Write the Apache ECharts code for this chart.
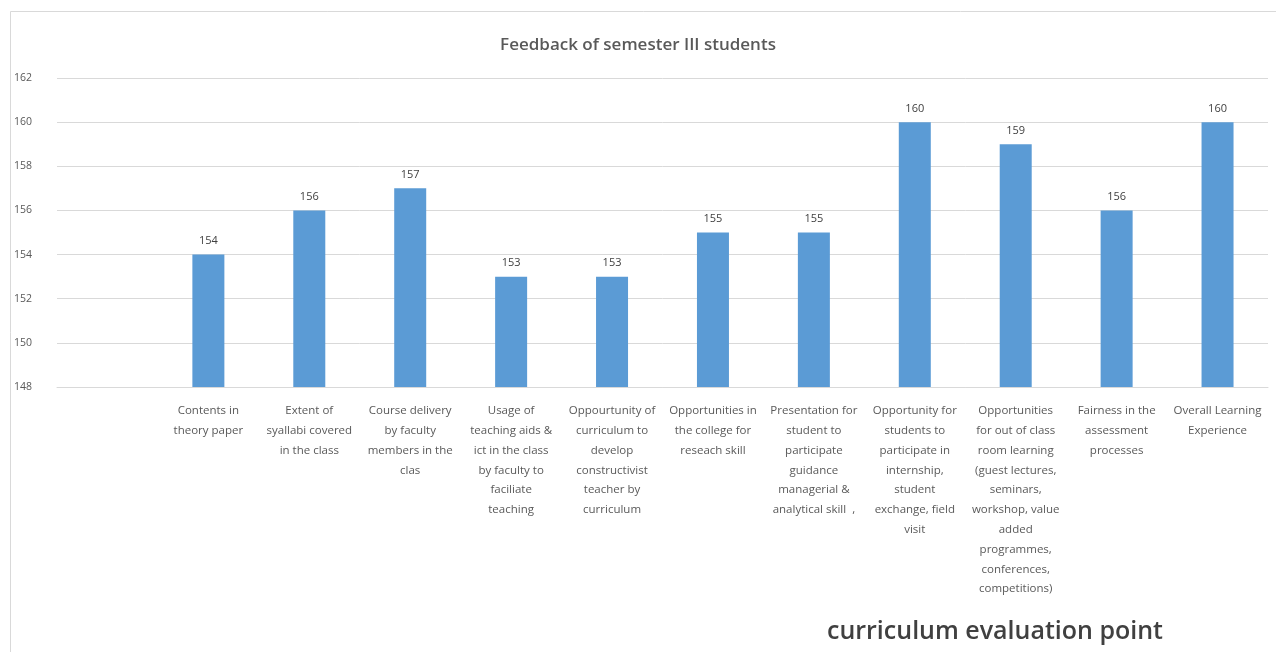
<!DOCTYPE html>
<html>
<head>
<meta charset="utf-8">
<script src="https://cdn.jsdelivr.net/npm/echarts@6/dist/echarts.min.js"></script>
<style>
html,body{margin:0;padding:0;background:#fff;}
#c{width:1276px;height:652px;}
</style>
</head>
<body>
<div id="c"></div>
<script>
const categories = [
  "",
  "Contents in\ntheory paper",
  "Extent of\nsyallabi covered\nin the class",
  "Course delivery\nby faculty\nmembers in the\nclas",
  "Usage of\nteaching aids &\nict in the class\nby faculty to\nfaciliate\nteaching",
  "Oppourtunity of\ncurriculum to\ndevelop\nconstructivist\nteacher by\ncurriculum",
  "Opportunities in\nthe college for\nreseach skill",
  "Presentation for\nstudent to\nparticipate\nguidance\nmanagerial &\nanalytical skill  ,",
  "Opportunity for\nstudents to\nparticipate in\ninternship,\nstudent\nexchange, field\nvisit",
  "Opportunities\nfor out of class\nroom learning\n(guest lectures,\nseminars,\nworkshop, value\nadded\nprogrammes,\nconferences,\ncompetitions)",
  "Fairness in the\nassessment\nprocesses",
  "Overall Learning\nExperience"
];
const values = [null, 154, 156, 157, 153, 153, 155, 155, 160, 159, 156, 160];
const yTicks = {min: 148, max: 162, interval: 2};

const chart = echarts.init(document.getElementById('c'), null, {renderer: 'canvas'});
chart.setOption({
  animation: false,
  backgroundColor: '#ffffff',
  graphic: [{
    type: 'rect',
    shape: {x: 10.5, y: 11.5, width: 1300, height: 700},
    style: {fill: 'none', stroke: '#d9d9d9', lineWidth: 1},
    silent: true
  }],
  title: {
    text: 'Feedback of semester III students',
    left: 'center',
    top: 32,
    textStyle: {fontFamily: 'Open Sans', fontSize: 17, fontWeight: 600, color: '#595959'}
  },
  grid: {left: 57, right: 8, top: 78, bottom: 265, containLabel: false},
  xAxis: {
    type: 'category',
    data: categories,
    name: 'curriculum evaluation point',
    nameLocation: 'end',
    nameGap: 0,
    nameTextStyle: {
      fontFamily: 'Open Sans', fontSize: 25, fontWeight: 600, color: '#404040',
      align: 'right', verticalAlign: 'top', padding: [232, 105, 0, 0]
    },
    axisLine: {show: true, lineStyle: {color: '#d9d9d9'}},
    axisTick: {show: false},
    axisLabel: {
      interval: 0,
      margin: 14,
      fontFamily: 'Open Sans',
      fontSize: 11.5,
      lineHeight: 19.8,
      color: '#595959',
      align: 'center'
    }
  },
  yAxis: {
    type: 'value',
    min: yTicks.min,
    max: yTicks.max,
    interval: yTicks.interval,
    axisLine: {show: false},
    axisTick: {show: false},
    splitLine: {lineStyle: {color: '#d9d9d9'}},
    axisLabel: {fontFamily: 'Open Sans', fontSize: 10.5, color: '#595959', margin: 25}
  },
  series: [{
    type: 'bar',
    data: values,
    barWidth: 32,
    itemStyle: {color: '#5b9bd5'},
    label: {
      show: true,
      position: 'top',
      distance: 8,
      fontFamily: 'Open Sans',
      fontSize: 11,
      color: '#404040'
    }
  }]
});
</script>
</body>
</html>
